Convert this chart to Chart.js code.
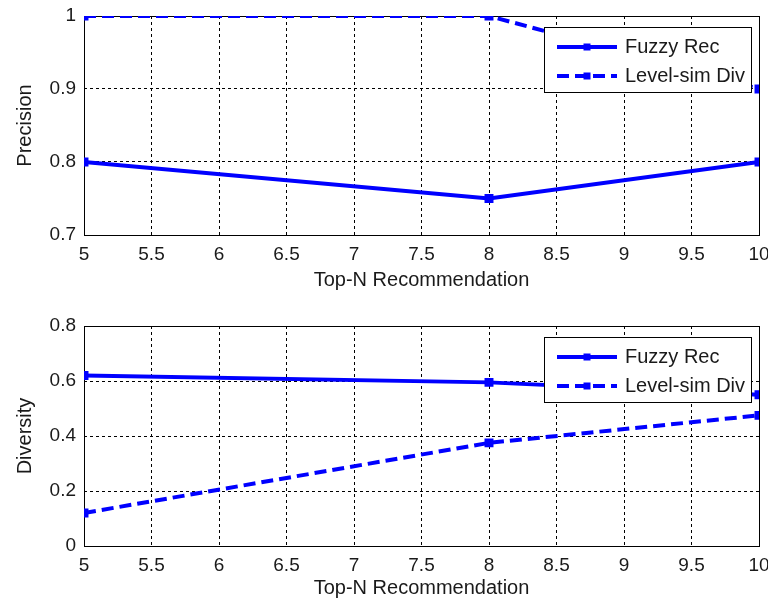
<!DOCTYPE html>
<html><head><meta charset="utf-8">
<script src="https://cdn.jsdelivr.net/npm/chart.js@4"></script>
<style>
html,body{margin:0;padding:0;background:#fff;width:768px;height:600px;overflow:hidden}
.wrap{position:absolute;left:0;width:768px;height:300px}
canvas{display:block}
</style></head><body>
<div class="wrap" style="top:0"><canvas id="c1" width="768" height="300"></canvas></div>
<div class="wrap" style="top:300px"><canvas id="c2" width="768" height="300"></canvas></div>
<script>
// ---- data ----
const topN = [5, 8, 10];
const seriesNames = ['Fuzzy Rec', 'Level-sim Div'];
const precisionFuzzy = [0.80, 0.75, 0.80];
const precisionLevel = [1.00, 1.00, 0.90];
const diversityFuzzy = [0.62, 0.595, 0.55];
const diversityLevel = [0.12, 0.375, 0.475];
const xTitle = 'Top-N Recommendation';

const FONT = '"Liberation Sans", Arial, sans-serif';
const TXT = '#1a1a1a';
const BLUE = '#0000ff';

const fmt = v => String(Number(Number(v).toFixed(3)));

const frame = {
  id: 'frame',
  beforeDatasetsDraw(chart) {
    const {ctx, chartArea: a} = chart;
    ctx.save();
    ctx.setLineDash([]);
    ctx.strokeStyle = '#000';
    ctx.lineWidth = 1;
    ctx.strokeRect(Math.round(a.left) + 0.5, Math.round(a.top) + 0.5, Math.round(a.right - a.left), Math.round(a.bottom - a.top));
    ctx.restore();
  }
};

const boxLegend = {
  id: 'boxLegend',
  afterDatasetsDraw(chart) {
    const {ctx, chartArea: a} = chart;
    const w = 207, h = 65;
    const x0 = Math.round(a.right - 8 - w), y0 = Math.round(a.top + 11);
    ctx.save();
    ctx.fillStyle = '#fff';
    ctx.fillRect(x0, y0, w, h);
    ctx.setLineDash([]);
    ctx.strokeStyle = '#000';
    ctx.lineWidth = 1;
    ctx.strokeRect(x0 + 0.5, y0 + 0.5, w, h);
    chart.data.datasets.forEach((ds, i) => {
      const cy = y0 + 20 + i * 29;
      ctx.strokeStyle = ds.borderColor;
      ctx.lineWidth = ds.borderWidth;
      ctx.setLineDash(ds.borderDash || []);
      ctx.beginPath();
      ctx.moveTo(x0 + 13, cy);
      ctx.lineTo(x0 + 73, cy);
      ctx.stroke();
      ctx.setLineDash([]);
      ctx.fillStyle = ds.pointBackgroundColor;
      ctx.fillRect(x0 + 43 - 3.5, cy - 3.5, 7, 7);
      ctx.fillStyle = TXT;
      ctx.font = '20px ' + FONT;
      ctx.textBaseline = 'middle';
      ctx.textAlign = 'left';
      ctx.fillText(ds.label, x0 + 81, cy);
    });
    ctx.restore();
  }
};

function pts(vals) { return topN.map((x, i) => ({x: x, y: vals[i]})); }

function makeChart(id, yTitle, yMin, yMax, yStep, fuzzy, level, padTop, areaBottom, titlePadB) {
  return new Chart(document.getElementById(id), {
    type: 'line',
    data: {
      datasets: [
        {label: seriesNames[0], data: pts(fuzzy), borderColor: BLUE, backgroundColor: BLUE,
         pointBackgroundColor: BLUE, pointBorderColor: BLUE, borderWidth: 4, pointStyle: 'rect',
         pointRadius: 3.5, borderDash: [], tension: 0, fill: false},
        {label: seriesNames[1], data: pts(level), borderColor: BLUE, backgroundColor: BLUE,
         pointBackgroundColor: BLUE, pointBorderColor: BLUE, borderWidth: 4, pointStyle: 'rect',
         pointRadius: 3.5, borderDash: [12, 6], tension: 0, fill: false}
      ]
    },
    options: {
      responsive: false,
      animation: false,
      layout: {padding: {left: 0, right: 9, top: padTop, bottom: 0}},
      plugins: {legend: {display: false}, tooltip: {enabled: false}},
      scales: {
        x: {
          type: 'linear', min: 5, max: 10,
          ticks: {stepSize: 0.5, autoSkip: false, maxRotation: 0, padding: 8, color: TXT,
                  font: {family: FONT, size: 19}, callback: fmt},
          grid: {color: '#000', lineWidth: 1, drawTicks: false},
          border: {display: false, dash: [3, 3]},
          title: {display: true, text: xTitle, color: TXT, font: {family: FONT, size: 20},
                  padding: {top: 0, bottom: titlePadB}},
          afterFit(s) { s.height = 300 - areaBottom; s.paddingLeft = 0; s.paddingRight = 0; }
        },
        y: {
          min: yMin, max: yMax,
          ticks: {stepSize: yStep, padding: 8, color: TXT, font: {family: FONT, size: 19}, callback: fmt},
          grid: {color: '#000', lineWidth: 1, drawTicks: false},
          border: {display: false, dash: [3, 3]},
          title: {display: true, text: yTitle, color: TXT, font: {family: FONT, size: 20},
                  padding: {top: 13, bottom: 0}},
          afterFit(s) { s.width = 84; s.paddingTop = 0; s.paddingBottom = 0; }
        }
      }
    },
    plugins: [frame, boxLegend]
  });
}

makeChart('c1', 'Precision', 0.7, 1.0, 0.1, precisionFuzzy, precisionLevel, 16, 235, 8);
makeChart('c2', 'Diversity', 0, 0.8, 0.2, diversityFuzzy, diversityLevel, 26, 246, 0);
</script>
</body></html>
